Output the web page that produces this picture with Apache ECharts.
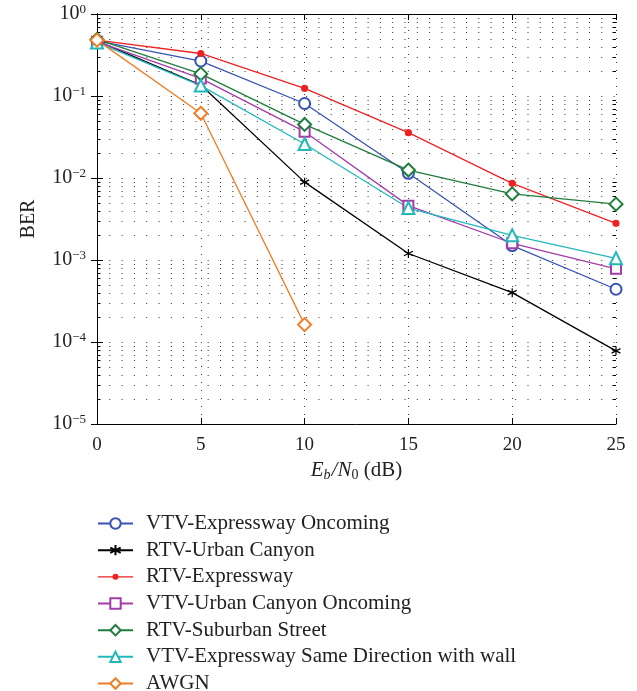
<!DOCTYPE html>
<html>
<head>
<meta charset="utf-8">
<script src="https://cdn.jsdelivr.net/npm/echarts@6/dist/echarts.min.js"></script>
<style>
  html, body { margin: 0; padding: 0; background: #fff; }
  #chart { width: 637px; height: 691px; }
</style>
</head>
<body>
<div id="chart"></div>
<script>
// Eb/N0 (dB) sample points
const snr = [0, 5, 10, 15, 20, 25];

// BER curves
const vtvExpresswayOncoming = [0.47, 0.267, 0.081, 0.0114, 0.0015, 0.00044];
const rtvUrbanCanyon = [0.47, 0.136, 0.0089, 0.0012, 0.0004, 0.000078];
const rtvExpressway = [0.48, 0.33, 0.124, 0.0357, 0.0086, 0.0028];
const vtvUrbanCanyonOncoming = [0.46, 0.164, 0.0367, 0.0046, 0.0016, 0.00078];
const rtvSuburbanStreet = [0.49, 0.186, 0.045, 0.0125, 0.0064, 0.0048];
const vtvSameDirectionWall = [0.45, 0.134, 0.026, 0.0043, 0.002, 0.00105];
const awgn = [0.48, 0.0615, 0.000163];

const seriesNames = [
  'VTV-Expressway Oncoming',
  'RTV-Urban Canyon',
  'RTV-Expressway',
  'VTV-Urban Canyon Oncoming',
  'RTV-Suburban Street',
  'VTV-Expressway Same Direction with wall',
  'AWGN'
];

// y decades shown on the log axis, minor grid at 2..9 of each decade
const yDecades = [-5, -4, -3, -2, -1, 0];
const minorSteps = [2, 3, 4, 5, 6, 7, 8, 9];

const minorTicks = [];
yDecades.slice(0, -1).forEach((d) => {
  minorSteps.forEach((m) => minorTicks.push(m * Math.pow(10, d)));
});

const FONT = '"Liberation Serif", "DejaVu Serif", serif';
const asterisk = 'path://M5,0L5,10M0.67,2.5L9.33,7.5M0.67,7.5L9.33,2.5';
// legend icon for the small red dot: line + dot, tiny specks pin the box to 35x13
const dotLineIcon = 'path://M0,0L0.05,0L0,0.05Z M35,13L34.95,13L35,12.95Z '
  + 'M0,5.9L35,5.9L35,7.1L0,7.1Z '
  + 'M20.5,6.5A3,3 0 1 1 14.5,6.5A3,3 0 1 1 20.5,6.5Z';

function curve(name, values, color, symbol, size) {
  return {
    name,
    type: 'line',
    data: values.map((v, i) => [snr[i], v]),
    symbol,
    symbolSize: size,
    lineStyle: { color, width: 1.3 },
    itemStyle: { color, borderColor: color, borderWidth: 1.2 },
    emphasis: { disabled: true },
    z: 3
  };
}

const chart = echarts.init(document.getElementById('chart'));

const option = {
  animation: false,
  backgroundColor: '#fff',
  grid: { left: 97, right: 21, top: 14, bottom: 267 },
  legend: {
    data: seriesNames.map((n) => (n === 'RTV-Expressway'
      ? { name: n, icon: dotLineIcon, itemStyle: { color: '#ee2222', borderWidth: 0 } }
      : n)),
    orient: 'vertical',
    left: 97,
    top: 513,
    height: 200,
    padding: 0,
    itemWidth: 35,
    itemHeight: 13,
    itemGap: 5.67,
    textStyle: { fontFamily: FONT, fontSize: 21, color: '#222', padding: [0, 0, 0, 8] },
    selectedMode: false
  },
  xAxis: [
    {
      type: 'value',
      min: 0,
      max: 25,
      interval: 5,
      name: '{i|E}{si|b}{i|/N}{sub|0}{n| (dB)}',
      nameLocation: 'middle',
      nameGap: 34,
      nameTextStyle: {
        rich: {
          i: { fontFamily: FONT, fontSize: 21, fontStyle: 'italic', color: '#222' },
          si: { fontFamily: FONT, fontSize: 14, fontStyle: 'italic', color: '#222', padding: [10, 1, 0, 0] },
          sub: { fontFamily: FONT, fontSize: 14, color: '#222', padding: [10, 0, 0, 0] },
          n: { fontFamily: FONT, fontSize: 21, color: '#222' }
        }
      },
      axisLine: { lineStyle: { color: '#000', width: 1 } },
      axisTick: { inside: true, length: 6, lineStyle: { color: '#000' } },
      axisLabel: { fontFamily: FONT, fontSize: 19, color: '#222', margin: 12 },
      splitLine: { show: true, lineStyle: { color: '#333', type: [1, 7], width: 1 } }
    },
    {
      type: 'value',
      position: 'top',
      min: 0,
      max: 25,
      interval: 5,
      axisLine: { lineStyle: { color: '#000', width: 1 } },
      axisTick: { inside: true, length: 6, lineStyle: { color: '#000' } },
      axisLabel: { show: false },
      splitLine: { show: false }
    }
  ],
  yAxis: [
    {
      type: 'log',
      logBase: 10,
      min: 1e-5,
      max: 1,
      name: 'BER',
      nameLocation: 'middle',
      nameGap: 58,
      nameTextStyle: { fontFamily: FONT, fontSize: 20, color: '#222' },
      axisLine: { show: true, lineStyle: { color: '#000', width: 1 } },
      axisTick: { show: true, inside: true, length: 6, lineStyle: { color: '#000' } },
      axisLabel: {
        margin: 11,
        formatter: (v) => {
          const e = Math.round(Math.log10(v));
          return '{b|10}{s|' + (e < 0 ? '\u2212' + (-e) : e) + '}';
        },
        rich: {
          b: { fontFamily: FONT, fontSize: 20, color: '#222', lineHeight: 22 },
          s: { fontFamily: FONT, fontSize: 13, color: '#222', lineHeight: 22, verticalAlign: 'top', padding: [0, 0, 10, 0] }
        }
      },
      splitLine: { show: true, lineStyle: { color: '#333', type: [1, 11.3], width: 1 } }
    },
    {
      type: 'log',
      logBase: 10,
      min: 1e-5,
      max: 1,
      position: 'right',
      axisLine: { show: true, lineStyle: { color: '#000', width: 1 } },
      axisTick: { show: true, inside: true, length: 6, lineStyle: { color: '#000' } },
      axisLabel: { show: false },
      splitLine: { show: false }
    }
  ],
  series: [
    {
      // minor dotted grid and minor ticks of the log axis
      type: 'custom',
      silent: true,
      z: 1,
      data: minorTicks.map((v) => [0, v]),
      renderItem: (params, api) => {
        const cs = params.coordSys;
        const y = Math.round(api.coord([0, api.value(1)])[1]) + 0.5;
        const x0 = cs.x;
        const x1 = cs.x + cs.width;
        return {
          type: 'group',
          children: [
            { type: 'line', shape: { x1: x0, y1: y, x2: x1, y2: y }, style: { stroke: '#333', lineWidth: 1, lineDash: [1, 11.3] } },
            { type: 'line', shape: { x1: x0, y1: y, x2: x0 + 3.5, y2: y }, style: { stroke: '#000', lineWidth: 1 } },
            { type: 'line', shape: { x1: x1 - 3.5, y1: y, x2: x1, y2: y }, style: { stroke: '#000', lineWidth: 1 } }
          ]
        };
      }
    },
    curve(seriesNames[0], vtvExpresswayOncoming, '#3853b3', 'emptyCircle', 11),
    curve(seriesNames[1], rtvUrbanCanyon, '#000000', asterisk, 9),
    curve(seriesNames[2], rtvExpressway, '#ee2222', 'circle', 6),
    curve(seriesNames[3], vtvUrbanCanyonOncoming, '#a43ca8', 'emptyRect', 10),
    curve(seriesNames[4], rtvSuburbanStreet, '#1f7c3c', 'emptyDiamond', 13),
    curve(seriesNames[5], vtvSameDirectionWall, '#22b8bb', 'emptyTriangle', 12),
    curve(seriesNames[6], awgn, '#f07d22', 'emptyDiamond', 13)
  ]
};

chart.setOption(option);
</script>
</body>
</html>
